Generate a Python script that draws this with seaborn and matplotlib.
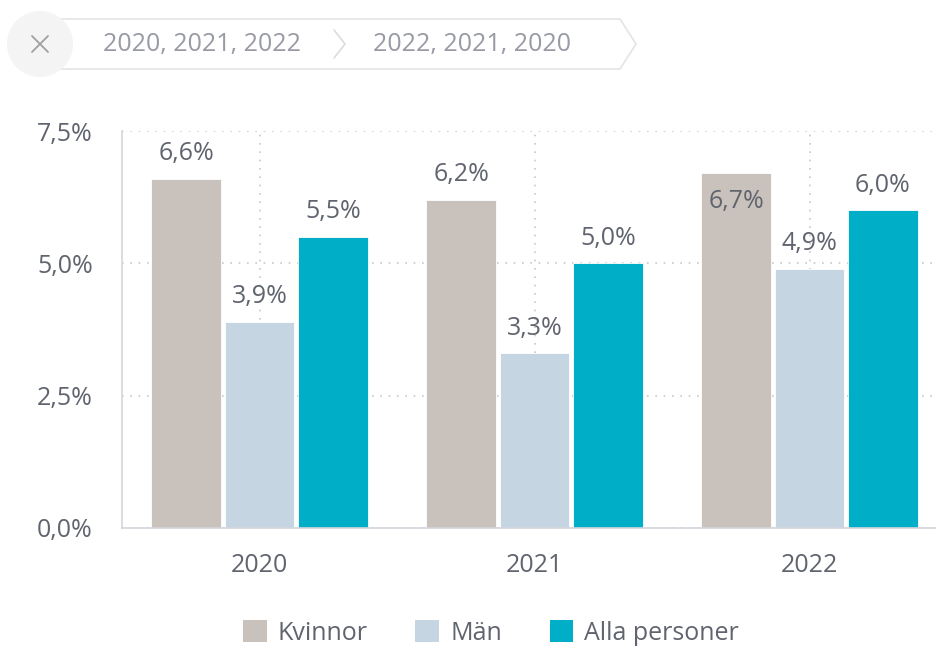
import matplotlib
matplotlib.use("Agg")
import matplotlib.pyplot as plt
import seaborn as sns
import pandas as pd
from matplotlib.patches import Circle, Polygon, Patch

years = ["2020", "2021", "2022"]
groups = ["Kvinnor", "Män", "Alla personer"]
kvinnor = [6.6, 6.2, 6.7]
man = [3.9, 3.3, 4.9]
alla = [5.5, 5.0, 6.0]
y_ticks = [0.0, 2.5, 5.0, 7.5]
crumbs = ["2020, 2021, 2022", "2022, 2021, 2020"]
colors = ["#c9c2bc", "#c6d5e2", "#00aec7"]

rows = []
for g, vals in zip(groups, [kvinnor, man, alla]):
    for yr, v in zip(years, vals):
        rows.append({"År": yr, "Grupp": g, "Värde": v})
df = pd.DataFrame(rows)

sns.set_theme(style="white")
plt.rcParams["font.family"] = ["Open Sans", "DejaVu Sans"]

TXT = "#60646e"
FS = 18
fig = plt.figure(figsize=(9.36, 6.46), dpi=100)
ax = fig.add_axes([122/936, 1-528/646, 1-122/936, (528-131)/646])

sns.barplot(data=df, x="År", y="Värde", hue="Grupp", order=years, hue_order=groups,
            palette=colors, width=0.8, gap=0.05, ax=ax, legend=False,
            edgecolor="white", linewidth=0.6, saturation=1)

ax.set_ylim(0, 7.5)
ax.set_xlim(-0.5, 2.46)
ax.set_yticks(y_ticks)
ax.set_yticklabels([f"{t:.1f}%".replace(".", ",") for t in y_ticks])
ax.set_xlabel("")
ax.set_ylabel("")
ax.tick_params(axis="y", length=0, pad=21, labelsize=FS, labelcolor=TXT)
ax.tick_params(axis="x", length=0, pad=18, labelsize=FS, labelcolor=TXT)
for s in ["top", "right"]:
    ax.spines[s].set_visible(False)
for s in ["left", "bottom"]:
    ax.spines[s].set_color("#d4d6dc")
    ax.spines[s].set_linewidth(1.2)
ax.grid(True, axis="both", linestyle=(0, (1, 4)), color="#c8c8c8", linewidth=1.2)
ax.set_axisbelow(True)

for cont in ax.containers:
    for bar in cont:
        v = bar.get_height()
        x = bar.get_x() + bar.get_width() / 2
        lab = f"{v:.1f}%".replace(".", ",")
        if v + 0.85 > ax.get_ylim()[1]:
            ax.annotate(lab, (x, v), xytext=(0, -20), textcoords="offset points",
                        ha="center", va="center", fontsize=FS, color=TXT)
        else:
            ax.annotate(lab, (x, v), xytext=(0, 18), textcoords="offset points",
                        ha="center", va="center", fontsize=FS, color=TXT)

# legend
handles = [Patch(facecolor=c, edgecolor="none") for c in colors]
fig.legend(handles, groups, loc="center", bbox_to_anchor=(491/936, 1-633/646), ncol=3,
           frameon=False, fontsize=FS, labelcolor=TXT, handlelength=0.95, handleheight=0.95,
           handletextpad=0.45, columnspacing=1.9)

# breadcrumb overlay
ov = fig.add_axes([0, 0, 1, 1], zorder=-1)
ov.set_xlim(0, 936)
ov.set_ylim(646, 0)
ov.axis("off")
box = Polygon([(40, 19), (620, 19), (636, 44), (620, 69), (40, 69)], closed=True,
              facecolor="white", edgecolor="#e4e4e6", linewidth=1.2)
ov.add_patch(box)
ov.add_patch(Circle((40, 44), 33, facecolor="#f4f4f4", edgecolor="none"))
ov.plot([32, 48], [36, 52], color="#a0a0a0", lw=1.3)
ov.plot([32, 48], [52, 36], color="#a0a0a0", lw=1.3)
ov.plot([334, 345, 334], [30, 44, 58], color="#dcdcdc", lw=1.2)
ov.text(202, 45, crumbs[0], ha="center", va="center", fontsize=FS, color="#989aa4")
ov.text(472, 45, crumbs[1], ha="center", va="center", fontsize=FS, color="#989aa4")

fig.savefig("out.png", dpi=100)
